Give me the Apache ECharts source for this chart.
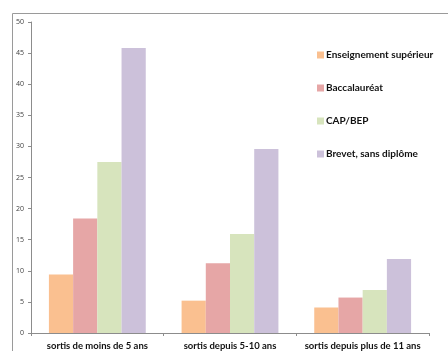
<!DOCTYPE html>
<html>
<head>
<meta charset="utf-8">
<script src="https://cdn.jsdelivr.net/npm/echarts@6/dist/echarts.min.js"></script>
<style>
  html, body { margin: 0; padding: 0; background: #fff; }
  #chart { width: 448px; height: 351px; }
</style>
</head>
<body>
<div id="chart"></div>
<script>
// Categories: time since leaving school
const categories = ['sortis de moins de 5 ans', 'sortis depuis 5-10 ans', 'sortis depuis plus de 11 ans'];

// One series per diploma level (values in %)
const seriesNames = ['Enseignement supérieur', 'Baccalauréat', 'CAP/BEP', 'Brevet, sans diplôme'];
const superieur = [9.4, 5.2, 4.1];
const bac = [18.4, 11.2, 5.7];
const capBep = [27.5, 15.9, 6.9];
const brevet = [45.8, 29.6, 11.9];

// Y axis ticks
const yMin = 0, yMax = 50, yStep = 5;

const colors = ['#FAC090', '#E6A6A6', '#D7E4BD', '#CCC1DA'];
const values = [superieur, bac, capBep, brevet];

const chart = echarts.init(document.getElementById('chart'), null, { renderer: 'canvas' });

chart.setOption({
  animation: false,
  backgroundColor: '#fff',
  textStyle: { fontFamily: 'Lato, "Open Sans", sans-serif' },
  graphic: [{
    type: 'rect',
    left: 10, top: 11,
    shape: { x: 0.5, y: 0.5, width: 460, height: 360 },
    style: { fill: 'none', stroke: '#9a9a9a', lineWidth: 1 },
    silent: true
  }],
  grid: { left: 31, right: 19, top: 22, bottom: 17, containLabel: false },
  legend: {
    orient: 'vertical',
    left: 312, top: 44,
    itemWidth: 7, itemHeight: 7,
    itemGap: 21,
    icon: 'rect',
    textStyle: { fontSize: 10, fontWeight: 'bold', color: '#111', padding: [0, 0, 0, -3], lineHeight: 12 },
    data: seriesNames
  },
  xAxis: {
    type: 'category',
    data: categories,
    axisLine: { lineStyle: { color: '#8c8c8c' } },
    axisTick: { show: true, length: 3, lineStyle: { color: '#8c8c8c' } },
    axisLabel: { fontSize: 9.5, fontWeight: 'bold', color: '#111', margin: 8, interval: 0 }
  },
  yAxis: {
    type: 'value',
    min: yMin, max: yMax, interval: yStep,
    axisLine: { show: true, lineStyle: { color: '#8c8c8c' } },
    axisTick: { show: true, length: 3, lineStyle: { color: '#8c8c8c' } },
    splitLine: { show: false },
    axisLabel: { fontSize: 7, color: '#404040', margin: 7, fontFamily: '"Open Sans", sans-serif' }
  },
  series: seriesNames.map((name, i) => ({
    name,
    type: 'bar',
    data: values[i],
    barGap: '0%',
    barCategoryGap: '27%',
    itemStyle: { color: colors[i] }
  }))
});
</script>
</body>
</html>
